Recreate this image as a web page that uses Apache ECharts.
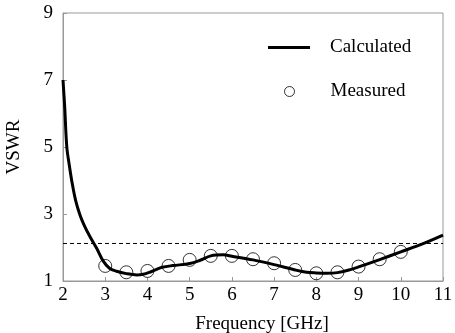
<!DOCTYPE html>
<html>
<head>
<meta charset="utf-8">
<script src="https://cdn.jsdelivr.net/npm/echarts@6/dist/echarts.min.js"></script>
<style>html,body{margin:0;padding:0;background:#fff}#c{width:455px;height:333px}</style>
</head>
<body>
<div id="c"></div>
<script>
// Calculated curve (frequency GHz, VSWR)
var calcFreq = [2.0, 2.04, 2.09, 2.15, 2.22, 2.3, 2.4, 2.5, 2.64, 2.8, 2.95, 3.1, 3.27, 3.5, 3.75, 3.9, 4.05, 4.2, 4.35, 4.6, 5.0, 5.25, 5.5, 5.8, 6.0, 6.5, 7.0, 7.5, 7.77, 8.0, 8.25, 8.5, 8.75, 9.0, 9.5, 10.0, 10.5, 11.0];
var calcVswr = [7.0, 6.2, 5.0, 4.45, 3.9, 3.4, 2.98, 2.67, 2.32, 1.97, 1.6, 1.38, 1.29, 1.22, 1.18, 1.2, 1.26, 1.34, 1.41, 1.46, 1.52, 1.62, 1.75, 1.78, 1.74, 1.63, 1.49, 1.33, 1.26, 1.24, 1.23, 1.25, 1.32, 1.42, 1.64, 1.87, 2.10, 2.37];
// Measured points
var measFreq = [3.0, 3.5, 4.0, 4.5, 5.0, 5.5, 6.0, 6.5, 7.0, 7.5, 8.0, 8.5, 9.0, 9.5, 10.0];
var measVswr = [1.45, 1.26, 1.30, 1.45, 1.63, 1.75, 1.75, 1.65, 1.53, 1.33, 1.23, 1.26, 1.43, 1.65, 1.87];
// Reference level (dashed)
var refLevel = 2.12;
var xTicks = [2, 3, 4, 5, 6, 7, 8, 9, 10, 11];
var yTicks = [1, 3, 5, 7, 9];

var font = 'Liberation Serif';
var fs = 19;
var chart = echarts.init(document.getElementById('c'));
function zip(a, b) { return a.map(function (v, i) { return [v, b[i]]; }); }
chart.setOption({
  animation: false,
  grid: { left: 63, right: 12, top: 13, bottom: 52, show: true, borderColor: '#999', borderWidth: 1,
          containLabel: false, outerBoundsMode: 'none' },
  xAxis: {
    type: 'value', min: xTicks[0], max: xTicks[xTicks.length - 1], interval: 1,
    name: 'Frequency [GHz]', nameLocation: 'middle', nameGap: 34,
    nameTextStyle: { fontFamily: font, fontSize: fs, color: '#000', padding: [0, 0, 0, 18] },
    axisLine: { lineStyle: { color: '#999' } },
    axisTick: { inside: true, length: 4, lineStyle: { color: '#999' } },
    axisLabel: { fontFamily: font, fontSize: fs, color: '#000', margin: 5 },
    splitLine: { show: false }
  },
  yAxis: {
    type: 'value', min: yTicks[0], max: yTicks[yTicks.length - 1], interval: 2,
    name: 'VSWR', nameLocation: 'middle', nameGap: 39,
    nameTextStyle: { fontFamily: font, fontSize: fs, color: '#000' },
    axisLine: { lineStyle: { color: '#999' } },
    axisTick: { inside: true, length: 4, lineStyle: { color: '#999' } },
    axisLabel: { fontFamily: font, fontSize: fs, color: '#000', margin: 10 },
    splitLine: { show: false }
  },
  legend: [
    {
      left: 268, top: 38, padding: 0, itemWidth: 42, itemHeight: 3,
      textStyle: { fontFamily: font, fontSize: fs, color: '#000', padding: [0, 0, 0, 15] },
      data: [{ name: 'Calculated', icon: 'rect', itemStyle: { color: '#000', borderWidth: 0 } }]
    },
    {
      left: 284, top: 82, padding: 0, itemWidth: 10, itemHeight: 10,
      textStyle: { fontFamily: font, fontSize: fs, color: '#000', padding: [0, 0, 0, 31] },
      data: [{ name: 'Measured', icon: 'circle', itemStyle: { color: 'rgba(0,0,0,0)', borderColor: '#000', borderWidth: 1 } }]
    }
  ],
  series: [
    {
      name: 'Reference', type: 'line', data: [[xTicks[0], refLevel], [xTicks[xTicks.length - 1], refLevel]],
      symbol: 'none', lineStyle: { color: '#000', width: 1, type: [4, 3] }, silent: true, z: 1
    },
    {
      name: 'Calculated', type: 'line', data: zip(calcFreq, calcVswr), smooth: 0.35,
      symbol: 'none', itemStyle: { color: '#000' }, lineStyle: { color: '#000', width: 3 }, z: 3
    },
    {
      name: 'Measured', type: 'scatter', data: zip(measFreq, measVswr), symbol: 'circle', symbolSize: 13,
      itemStyle: { color: 'rgba(0,0,0,0)', borderColor: '#000', borderWidth: 1 }, z: 4
    }
  ]
});
</script>
</body>
</html>
